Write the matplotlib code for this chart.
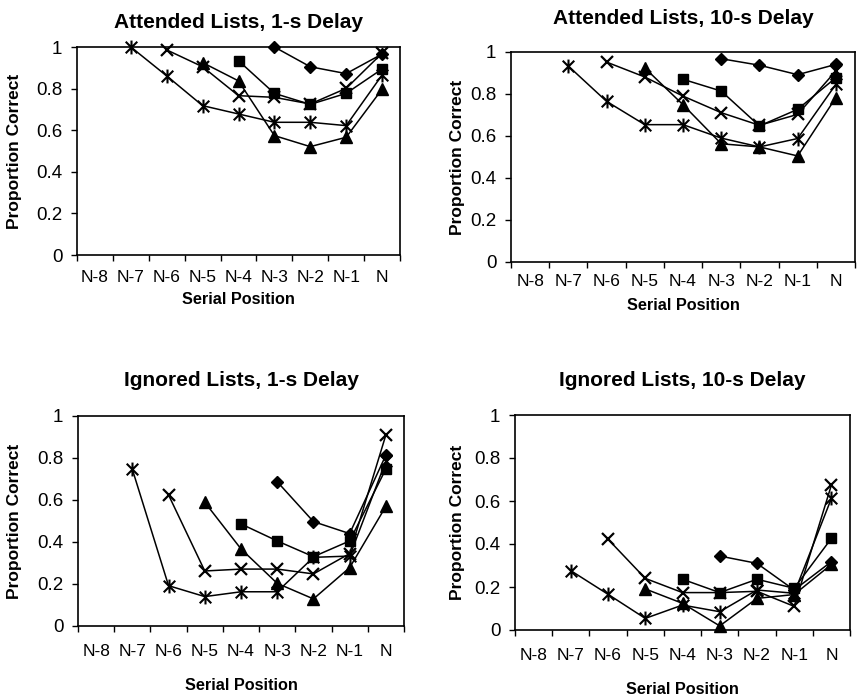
import numpy as np
import matplotlib
matplotlib.use("Agg")
import matplotlib.pyplot as plt
from matplotlib.path import Path

plt.rcParams['font.family'] = ['Liberation Sans', 'DejaVu Sans']

positions = ['N-8', 'N-7', 'N-6', 'N-5', 'N-4', 'N-3', 'N-2', 'N-1', 'N']
yticks = [0, 0.2, 0.4, 0.6, 0.8, 1.0]
ytick_labels = ['0', '0.2', '0.4', '0.6', '0.8', '1']
nan = np.nan

titles = ['Attended Lists, 1-s Delay', 'Attended Lists, 10-s Delay',
          'Ignored Lists, 1-s Delay', 'Ignored Lists, 10-s Delay']

# series: list length 4 (diamond) .. 8 (asterisk)
att1_diamond = [nan, nan, nan, nan, nan, 1.000, 0.905, 0.872, 0.966]
att1_square = [nan, nan, nan, nan, 0.934, 0.777, 0.724, 0.777, 0.894]
att1_triangle = [nan, nan, nan, 0.925, 0.837, 0.574, 0.521, 0.566, 0.797]
att1_x = [nan, nan, 0.986, 0.905, 0.766, 0.758, 0.726, 0.801, 0.970]
att1_star = [nan, 1.000, 0.861, 0.718, 0.678, 0.638, 0.638, 0.622, 0.865]

att10_diamond = [nan, nan, nan, nan, nan, 0.968, 0.937, 0.892, 0.941]
att10_square = [nan, nan, nan, nan, 0.870, 0.814, 0.648, 0.727, 0.878]
att10_triangle = [nan, nan, nan, 0.924, 0.749, 0.563, 0.548, 0.505, 0.783]
att10_x = [nan, nan, 0.952, 0.881, 0.790, 0.711, 0.651, 0.703, 0.910]
att10_star = [nan, 0.933, 0.765, 0.654, 0.654, 0.590, 0.548, 0.588, 0.846]

ign1_diamond = [nan, nan, nan, nan, nan, 0.687, 0.497, 0.440, 0.814]
ign1_square = [nan, nan, nan, nan, 0.486, 0.405, 0.330, 0.405, 0.748]
ign1_triangle = [nan, nan, nan, 0.589, 0.367, 0.203, 0.129, 0.278, 0.570]
ign1_x = [nan, nan, 0.624, 0.262, 0.271, 0.271, 0.248, 0.345, 0.910]
ign1_star = [nan, 0.746, 0.192, 0.140, 0.163, 0.163, 0.327, 0.333, 0.785]

ign10_diamond = [nan, nan, nan, nan, nan, 0.344, 0.310, 0.186, 0.318]
ign10_square = [nan, nan, nan, nan, 0.236, 0.174, 0.236, 0.194, 0.426]
ign10_triangle = [nan, nan, nan, 0.191, 0.124, 0.019, 0.147, 0.165, 0.305]
ign10_x = [nan, nan, 0.422, 0.240, 0.174, 0.174, 0.180, 0.110, 0.674]
ign10_star = [nan, 0.276, 0.166, 0.054, 0.116, 0.085, 0.186, 0.171, 0.612]

panels = [
    [att1_diamond, att1_square, att1_triangle, att1_x, att1_star],
    [att10_diamond, att10_square, att10_triangle, att10_x, att10_star],
    [ign1_diamond, ign1_square, ign1_triangle, ign1_x, ign1_star],
    [ign10_diamond, ign10_square, ign10_triangle, ign10_x, ign10_star],
]

star_marker = Path([(-1, -1), (1, 1), (-1, 1), (1, -1), (0, -1.2), (0, 1.2)],
                   [Path.MOVETO, Path.LINETO, Path.MOVETO, Path.LINETO,
                    Path.MOVETO, Path.LINETO])
styles = [
    dict(marker='D', markersize=6.5, markerfacecolor='black', markeredgecolor='black'),
    dict(marker='s', markersize=7.5, markerfacecolor='black', markeredgecolor='black'),
    dict(marker='^', markersize=8.5, markerfacecolor='black', markeredgecolor='black'),
    dict(marker='x', markersize=9, markeredgewidth=1.6, markeredgecolor='black'),
    dict(marker=star_marker, markersize=10, markeredgewidth=1.5, markeredgecolor='black'),
]

W, H = 861, 698
fig = plt.figure(figsize=(W / 100, H / 100), dpi=100)

# pixel boxes: left, top, right, bottom
boxes = [(77, 47, 400, 255), (511, 52, 855, 262),
         (78, 416, 404, 626), (515, 415, 850, 630)]
title_y = [22, 18, 380, 380]
xlabel_y = [300, 306, 686, 689]
ylabel_x = [15, 458, 15, 458]
xpad = [10.8, 8.4, 12.7, 12.7]


def fx(px):
    return px / W


def fy(py):
    return 1 - py / H


x = np.arange(len(positions))
for i, (l, t, r, b) in enumerate(boxes):
    ax = fig.add_axes([fx(l), fy(b), fx(r) - fx(l), fy(t) - fy(b)])
    for series, st in zip(panels[i], styles):
        ax.plot(x, series, color='black', linewidth=1.1, clip_on=False, **st)
    ax.set_xlim(-0.5, len(positions) - 0.5)
    ax.set_ylim(0, 1)
    ax.set_xticks(x)
    ax.set_xticklabels(positions, fontsize=12.5)
    ax.set_xticks(np.arange(-0.5, len(positions)), minor=True)
    ax.tick_params(axis='x', which='major', length=0, pad=xpad[i])
    ax.tick_params(axis='x', which='minor', length=4, direction='out', width=1)
    ax.set_yticks(yticks)
    ax.set_yticklabels(ytick_labels, fontsize=13.5)
    ax.tick_params(axis='y', length=4.5, direction='out', width=1, pad=6)
    for sp in ax.spines.values():
        sp.set_linewidth(1.2)
        sp.set_color('black')
    cx = (l + r) / 2
    cy = (t + b) / 2
    fig.text(fx(cx), fy(title_y[i]), titles[i], fontsize=15, fontweight='bold',
             ha='center', va='center')
    fig.text(fx(cx), fy(xlabel_y[i]), 'Serial Position', fontsize=11.7,
             fontweight='bold', ha='center', va='center')
    fig.text(fx(ylabel_x[i]), fy(cy), 'Proportion Correct', fontsize=12.5,
             fontweight='bold', ha='center', va='center', rotation=90)

fig.savefig('out.png', dpi=100)
